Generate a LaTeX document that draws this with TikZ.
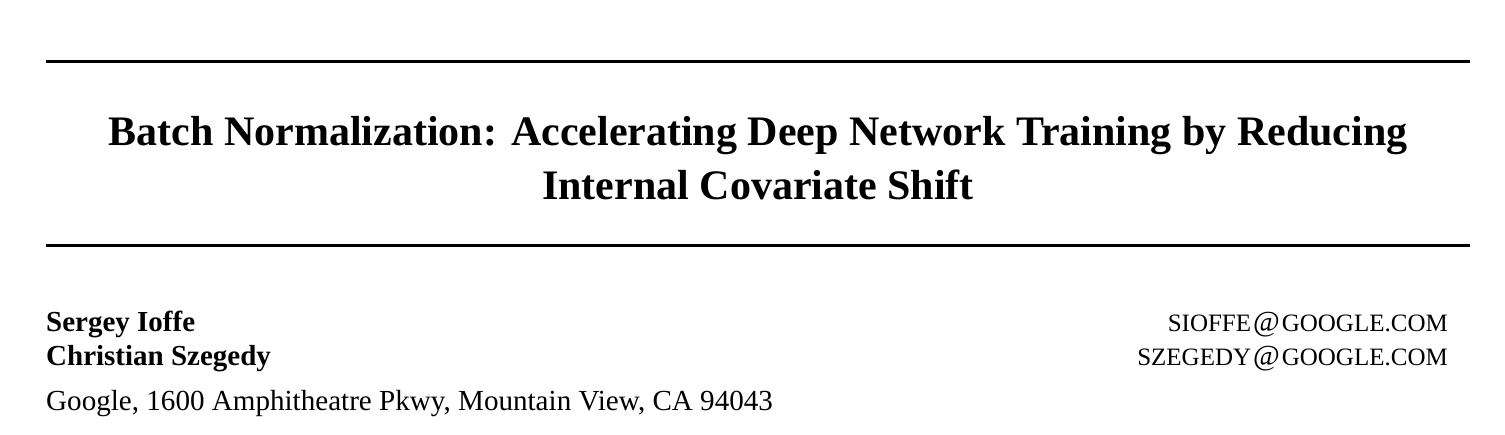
\documentclass[tikz,border=0pt]{standalone}
\usepackage{fontspec}
\setmainfont{Liberation Serif}
\usetikzlibrary{positioning}
\tikzset{
  titleline/.style={inner sep=0pt,font=\fontsize{42}{54}\selectfont\bfseries},
  author/.style={inner sep=0pt,anchor=base west,font=\fontsize{29}{34}\selectfont\bfseries},
  address/.style={inner sep=0pt,anchor=base west,font=\fontsize{29.1}{36}\selectfont},
  email/.style={inner sep=0pt,anchor=base east,font=\fontsize{29}{36}\selectfont},
  rule/.style={line width=3pt}
}
\newcommand{\smc}[1]{{\fontsize{25}{30}\selectfont #1}}
\begin{document}
\begin{tikzpicture}
    \useasboundingbox (0,0) rectangle (1505pt,-435pt);
    % rules above and below the title
    \coordinate (r1l) at (46pt,-62pt);
    \coordinate (r1r) at (1470pt,-62pt);
    \coordinate (r2l) at (46pt,-246pt);
    \coordinate (r2r) at (1470pt,-246pt);
    \draw[rule] (r1l) -- (r1r);
    \draw[rule] (r2l) -- (r2r);
    % title
    \node[titleline,anchor=base] (title1) at (758pt,-146pt) {Batch Normalization: Accelerating Deep Network Training by Reducing};
    \node[titleline,anchor=base] (title2) at (758pt,-200pt) {Internal Covariate Shift};
    % authors
    \node[author] (ioffe) at (46pt,-332pt) {Sergey Ioffe};
    \node[author] (szegedy) at (46pt,-366pt) {Christian Szegedy};
    \node[address] (google) at (46pt,-410pt) {Google, 1600 Amphitheatre Pkwy, Mountain View, CA 94043};
    \node[email] (mail1) at (1448pt,-332pt) {\smc{SIOFFE}\kern2pt@\kern2pt\smc{GOOGLE.COM}};
    \node[email] (mail2) at (1448pt,-366pt) {\smc{SZEGEDY}\kern2pt@\kern2pt\smc{GOOGLE.COM}};
\end{tikzpicture}
\end{document}
